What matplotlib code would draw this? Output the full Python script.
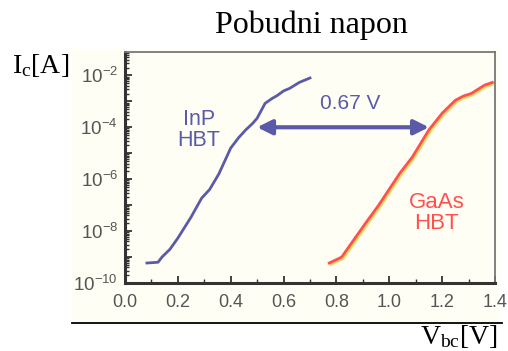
import numpy as np
import matplotlib
matplotlib.use("Agg")
import matplotlib.pyplot as plt
import matplotlib.ticker as mticker
import matplotlib.patheffects as pe
from matplotlib.patches import Rectangle

plt.rcParams['mathtext.fontset'] = 'custom'
plt.rcParams['mathtext.rm'] = 'Liberation Serif'
plt.rcParams['mathtext.sf'] = 'Liberation Sans'
plt.rcParams['font.family'] = 'Liberation Sans'

# --- podaci (ocitano sa slike) ---
inp_v = [0.083, 0.125, 0.14, 0.17, 0.20, 0.25, 0.29, 0.32, 0.355, 0.40, 0.43,
         0.457, 0.483, 0.50, 0.53, 0.555, 0.577, 0.60, 0.623, 0.66, 0.70]
inp_exp = [-9.23, -9.2, -9.0, -8.7, -8.27, -7.46, -6.73, -6.4, -5.8, -4.8, -4.4,
           -4.1, -3.85, -3.65, -3.08, -2.9, -2.77, -2.6, -2.5, -2.27, -2.1]

gaas_v = [0.773, 0.80, 0.82, 0.86, 0.91, 0.96, 1.01, 1.04, 1.087, 1.12, 1.15,
          1.20, 1.25, 1.28, 1.31, 1.36, 1.39]
gaas_exp = [-9.23, -9.1, -9.0, -8.42, -7.7, -7.0, -6.23, -5.77, -5.15, -4.6, -4.1,
            -3.46, -2.96, -2.8, -2.7, -2.38, -2.27]

inp_I = 10.0 ** np.array(inp_exp)
gaas_I = 10.0 ** np.array(gaas_exp)

x_ticks = [0.0, 0.2, 0.4, 0.6, 0.8, 1.0, 1.2, 1.4]
x_labels = ['0.0', '0.2', '0.4', '0.6', '0.8', '1.0', '1.2', '1.4']
y_exps = [-10, -9, -8, -7, -6, -5, -4, -3, -2]

plava = '#5a5aa8'
crvena = '#ff4f4f'
W, H = 508, 351

fig = plt.figure(figsize=(W / 100, H / 100), dpi=100)
fig.patch.set_facecolor('white')

# krem pozadina skenirane slike
pozadina = Rectangle((72 / W, (H - 322) / H), (500 - 72) / W, (322 - 49) / H,
                     transform=fig.transFigure, facecolor='#fffef4',
                     edgecolor='none', zorder=-5)
fig.add_artist(pozadina)
# crna linija ispod
fig.add_artist(plt.Line2D([72 / W, 502 / W], [(H - 323) / H] * 2,
                          transform=fig.transFigure, color='black', lw=1.3))

ax = fig.add_axes([125 / W, (H - 283) / H, (495 - 125) / W, (283 - 52) / H])
ax.set_zorder(2)
ax.set_facecolor('#fffef4')

ax.plot(inp_v, inp_I, color=plava, lw=2)
ax.plot(gaas_v, gaas_I, color=crvena, lw=2,
        path_effects=[pe.SimpleLineShadow(offset=(1, -1), shadow_color='#ffd860', alpha=1),
                      pe.Normal()])

ax.set_yscale('log')
ax.set_xlim(0, 1.4)
ax.set_ylim(1e-10, 10 ** -1.1)

ax.set_xticks(x_ticks)
ax.set_xticklabels(x_labels)
ax.xaxis.set_minor_locator(mticker.MultipleLocator(0.1))
ax.set_yticks([10.0 ** e for e in y_exps])
ax.set_yticklabels([r'$\mathsf{10^{%d}}$' % e if e % 2 == 0 else '' for e in y_exps])
ax.yaxis.set_minor_locator(mticker.LogLocator(base=10, subs=np.arange(2, 10), numticks=100))
ax.yaxis.set_minor_formatter(mticker.NullFormatter())

ax.tick_params(which='both', direction='in', colors='#333333', labelcolor='#555555')
ax.tick_params(which='major', length=5, width=1.3)
ax.tick_params(which='minor', length=3, width=1)
ax.tick_params(axis='x', pad=8, labelsize=13)
ax.tick_params(axis='y', pad=5, labelsize=13.5)

for s in ['left', 'bottom']:
    ax.spines[s].set_color('#333333')
    ax.spines[s].set_linewidth(2.2)
for s in ['top', 'right']:
    ax.spines[s].set_color('#777777')
    ax.spines[s].set_linewidth(1.3)

# strelica i tekst
ax.annotate('', xy=(0.50, 1e-4), xytext=(1.15, 1e-4),
            arrowprops=dict(arrowstyle='<|-|>', color=plava, lw=3,
                            mutation_scale=22, shrinkA=0, shrinkB=0))
ax.text(0.853, 10 ** -3.08, '0.67 V', color=plava, fontsize=15,
        ha='center', va='center')
ax.text(0.28, 10 ** -4.1, 'InP\nHBT', color=plava, fontsize=15.5,
        ha='center', va='center', linespacing=1.0)
ax.text(1.18, 10 ** -7.3, 'GaAs\nHBT', color=crvena, fontsize=16,
        ha='center', va='center', linespacing=1.0)

fig.text(311 / W, (H - 33) / H, 'Pobudni napon', family='Liberation Serif',
         fontsize=23, ha='center', va='baseline')
fig.text(12 / W, (H - 73) / H, r'$\mathrm{I_c[A]}$', fontsize=20,
         ha='left', va='baseline')
fig.text(498 / W, (H - 344) / H, r'$\mathrm{V_{bc}[V]}$', fontsize=20,
         ha='right', va='baseline')

fig.savefig('out.png', dpi=100)
